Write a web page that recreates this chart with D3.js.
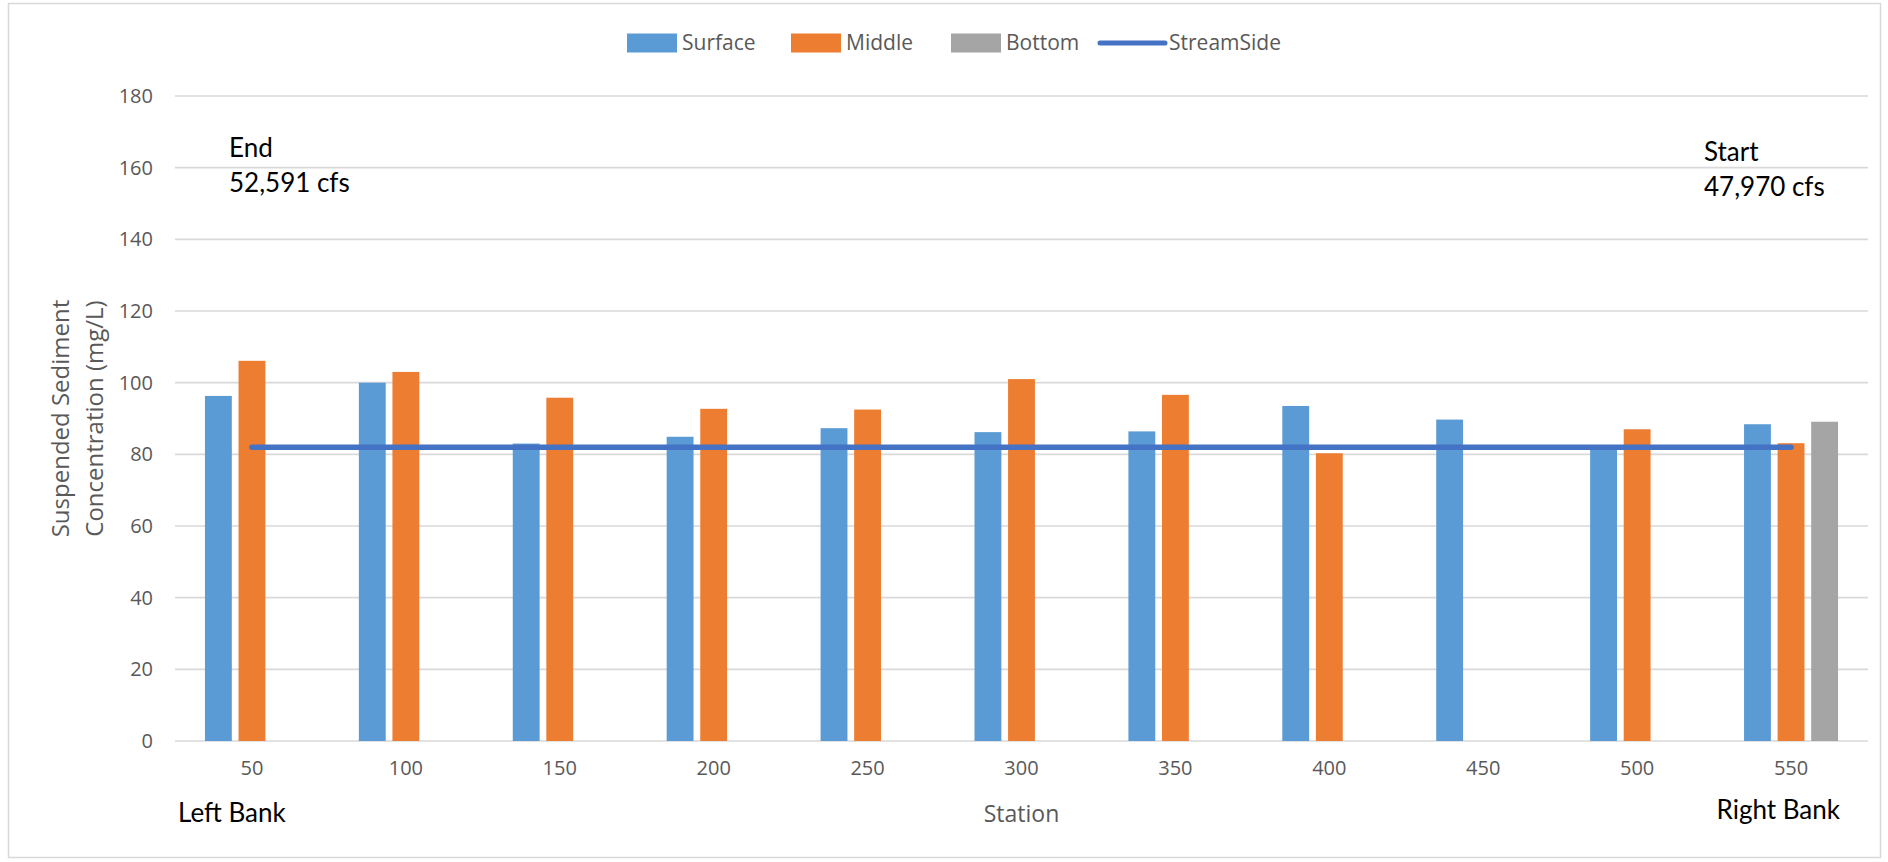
<!DOCTYPE html>
<html>
<head>
<meta charset="utf-8">
<script src="https://cdn.jsdelivr.net/npm/d3@7"></script>
<style>
  html, body { margin: 0; padding: 0; background: #ffffff; }
  svg { display: block; }
</style>
</head>
<body>
<svg id="chart" width="1888" height="862"></svg>
<script>
// ---- data ----
const categories = ["50", "100", "150", "200", "250", "300", "350", "400", "450", "500", "550"];
const seriesNames = ["Surface", "Middle", "Bottom"];
const surface = [96.3, 100.0, 83.0, 84.9, 87.3, 86.2, 86.4, 93.5, 89.7, 81.5, 88.4];
const middle  = [106.1, 103.0, 95.8, 92.7, 92.5, 101.0, 96.6, 80.3, null, 87.0, 83.1];
const bottom  = [null, null, null, null, null, null, null, null, null, null, 89.1];
const streamSide = [82, 82, 82, 82, 82, 82, 82, 82, 82, 82, 82];
const lineName = "StreamSide";
const yTicks = [0, 20, 40, 60, 80, 100, 120, 140, 160, 180];
const yTitleLines = ["Suspended Sediment", "Concentration (mg/L)"];
const xTitle = "Station";
const leftNotes = ["End", "52,591 cfs"];
const rightNotes = ["Start", "47,970 cfs"];
const bankLabels = ["Left Bank", "Right Bank"];

// ---- styles ----
const colors = { Surface: "#5B9BD5", Middle: "#ED7D31", Bottom: "#A5A5A5" };
const lineColor = "#4472C4";
const gridColor = "#D9D9D9";
const textColor = "#595959";
const uiFont = "'Open Sans', 'Noto Sans', sans-serif";
const noteFont = "Lato, 'Noto Sans', sans-serif";

const svg = d3.select("#chart");

// chart border
svg.append("rect")
  .attr("x", 8.5).attr("y", 3.5)
  .attr("width", 1872).attr("height", 854)
  .attr("fill", "#fff")
  .attr("stroke", gridColor).attr("stroke-width", 1.5);

const plot = { left: 175, right: 1868, top: 96, bottom: 741 };

const x = d3.scaleBand().domain(categories).range([plot.left, plot.right]).padding(0);
const groupW = 94;
const xs = d3.scaleBand().domain(seriesNames)
  .range([x.bandwidth() / 2 - groupW / 2, x.bandwidth() / 2 + groupW / 2])
  .paddingInner(0.2).paddingOuter(0);
const y = d3.scaleLinear().domain([0, 180]).range([plot.bottom, plot.top]);

// gridlines
svg.append("g")
  .selectAll("line").data(yTicks).join("line")
  .attr("x1", plot.left).attr("x2", plot.right)
  .attr("y1", d => y(d)).attr("y2", d => y(d))
  .attr("stroke", gridColor).attr("stroke-width", 1.6);

// y axis labels
const yAxis = d3.axisLeft(y).tickValues(yTicks).tickSize(0).tickPadding(0);
const gy = svg.append("g").attr("transform", `translate(${plot.left - 22},0)`).call(yAxis);
gy.select(".domain").remove();
gy.selectAll("text")
  .attr("fill", textColor)
  .style("font-family", uiFont).style("font-size", "20px");

// x axis labels
const xAxis = d3.axisBottom(x).tickSize(0).tickPadding(0);
const gx = svg.append("g").attr("transform", `translate(0,${plot.bottom + 20})`).call(xAxis);
gx.select(".domain").remove();
gx.selectAll("text")
  .attr("fill", textColor)
  .attr("dy", "0.71em")
  .style("font-family", uiFont).style("font-size", "20px");

// bars
const seriesData = { Surface: surface, Middle: middle, Bottom: bottom };
const barRows = [];
categories.forEach((c, i) => {
  seriesNames.forEach(s => {
    const v = seriesData[s][i];
    if (v !== null && v !== undefined) barRows.push({ cat: c, series: s, value: v });
  });
});
svg.append("g")
  .selectAll("rect").data(barRows).join("rect")
  .attr("x", d => x(d.cat) + xs(d.series))
  .attr("width", xs.bandwidth())
  .attr("y", d => y(d.value))
  .attr("height", d => y(0) - y(d.value))
  .attr("fill", d => colors[d.series]);

// StreamSide line
const line = d3.line()
  .x((d, i) => x(categories[i]) + x.bandwidth() / 2)
  .y(d => y(d));
svg.append("path")
  .datum(streamSide)
  .attr("d", line)
  .attr("fill", "none")
  .attr("stroke", lineColor)
  .attr("stroke-width", 5.5)
  .attr("stroke-linecap", "round");

// y axis title
const yt = svg.append("text")
  .attr("transform", `translate(69,${(plot.top + plot.bottom) / 2}) rotate(-90)`)
  .attr("text-anchor", "middle")
  .attr("fill", textColor)
  .style("font-family", uiFont).style("font-size", "24px");
yt.selectAll("tspan").data(yTitleLines).join("tspan")
  .attr("x", 0)
  .attr("dy", (d, i) => i === 0 ? 0 : 34)
  .text(d => d);

// x axis title
svg.append("text")
  .attr("x", (plot.left + plot.right) / 2).attr("y", 822)
  .attr("text-anchor", "middle")
  .attr("fill", textColor)
  .style("font-family", uiFont).style("font-size", "23px")
  .text(xTitle);

// annotations
function notes(lines, xPos, yBase) {
  const t = svg.append("text")
    .attr("fill", "#000")
    .style("font-family", noteFont).style("font-size", "26px");
  t.selectAll("tspan").data(lines).join("tspan")
    .attr("x", xPos)
    .attr("y", (d, i) => yBase + i * 35)
    .text(d => d);
}
notes(leftNotes, 229, 157);
notes(rightNotes, 1704, 161);

svg.append("text")
  .attr("x", 178).attr("y", 822)
  .attr("fill", "#000")
  .style("font-family", noteFont).style("font-size", "26px")
  .text(bankLabels[0]);
svg.append("text")
  .attr("x", 1840).attr("y", 819)
  .attr("text-anchor", "end")
  .attr("fill", "#000")
  .style("font-family", noteFont).style("font-size", "26px")
  .text(bankLabels[1]);

// legend
const legendItems = [
  { name: seriesNames[0], type: "bar", x: 627 },
  { name: seriesNames[1], type: "bar", x: 791 },
  { name: seriesNames[2], type: "bar", x: 951 },
  { name: lineName, type: "line", x: 1097 }
];
const legendY = 43;
const swW = 50, swH = 19;
const lg = svg.append("g");
legendItems.forEach(it => {
  if (it.type === "bar") {
    lg.append("rect")
      .attr("x", it.x).attr("y", legendY - swH / 2)
      .attr("width", swW).attr("height", swH)
      .attr("fill", colors[it.name]);
  } else {
    lg.append("line")
      .attr("x1", it.x + 3).attr("x2", it.x + 68)
      .attr("y1", legendY).attr("y2", legendY)
      .attr("stroke", lineColor).attr("stroke-width", 5)
      .attr("stroke-linecap", "round");
  }
  lg.append("text")
    .attr("x", it.type === "bar" ? it.x + swW + 5 : it.x + 72).attr("y", legendY)
    .attr("dy", "0.35em")
    .attr("fill", textColor)
    .style("font-family", uiFont).style("font-size", "21px")
    .text(it.name);
});
</script>
</body>
</html>
